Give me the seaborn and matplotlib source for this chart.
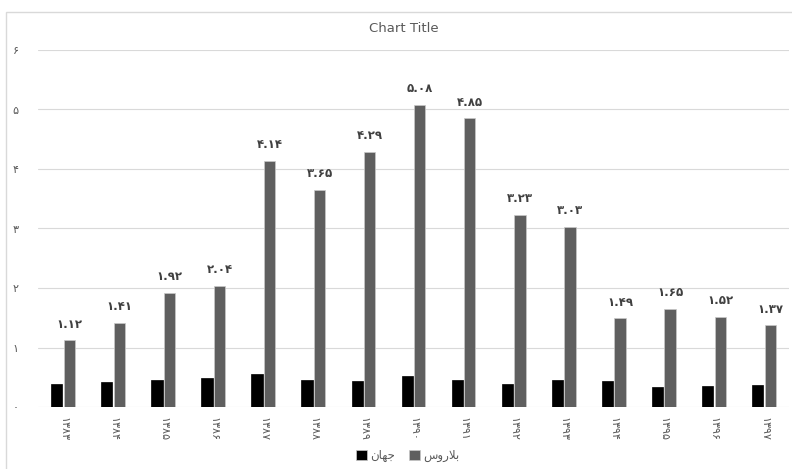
import pandas as pd
import matplotlib
matplotlib.use("Agg")
import matplotlib.pyplot as plt
import seaborn as sns
from matplotlib.patches import Rectangle

# data
years = [1383, 1384, 1385, 1386, 1387, 1388, 1389, 1390, 1391, 1392, 1393, 1394, 1395, 1396, 1397]
world = [0.39, 0.42, 0.45, 0.49, 0.55, 0.45, 0.44, 0.52, 0.45, 0.39, 0.45, 0.44, 0.34, 0.35, 0.37]
belarus = [1.12, 1.41, 1.92, 2.04, 4.14, 3.65, 4.29, 5.08, 4.85, 3.23, 3.03, 1.49, 1.65, 1.52, 1.37]
y_ticks = [0, 1, 2, 3, 4, 5, 6]

# "جهان" and "بلاروس" in shaped presentation forms, visual order (matplotlib has no bidi)
world_name = "\uFEE5\uFE8E\uFEEC\uFE9F"
belarus_name = "\uFEB1\uFEED\uFEAD\uFEFC\uFE91"

fa = str.maketrans("0123456789", "۰۱۲۳۴۵۶۷۸۹")

def fa_num(s):
    return str(s).translate(fa)

year_labels = [fa_num(y) for y in years]
df = pd.DataFrame({
    "year": year_labels * 2,
    "value": world + belarus,
    "series": [world_name] * len(years) + [belarus_name] * len(years),
})

sns.set_style("white")
plt.rcParams["font.family"] = ["DejaVu Sans"]

fig = plt.figure(figsize=(7.92, 4.69), dpi=100)
ax = fig.add_axes([38 / 792, 62 / 469, 751 / 792, 357 / 469])

sns.barplot(data=df, x="year", y="value", hue="series", order=year_labels,
            hue_order=[world_name, belarus_name], palette=["#000000", "#5f5f5f"],
            width=0.5, gap=0.1, ax=ax, edgecolor="#c8c8c8", linewidth=0.5)
for bar in ax.containers[0]:
    bar.set_edgecolor("#000000")

ax.set_xlim(-0.5, len(years) - 0.5)
ax.set_ylim(0, 6)
ax.set_yticks(y_ticks)
ax.set_yticklabels([fa_num(v) for v in y_ticks])
ax.set_xticks(range(len(years)))
ax.set_xticklabels(year_labels, rotation=-90)
ax.tick_params(axis="both", length=0, colors="#595959", labelsize=8)
ax.tick_params(axis="y", pad=14)
ax.tick_params(axis="x", pad=7)
ax.set_xlabel("")
ax.set_ylabel("")
ax.yaxis.grid(True, color="#d9d9d9", linewidth=0.8)
ax.set_axisbelow(True)
for s in ax.spines.values():
    s.set_visible(False)

gray_bars = ax.containers[1]
ax.bar_label(gray_bars, labels=[fa_num(f"{v:.2f}") for v in belarus], padding=7,
             fontsize=8.5, fontweight="bold", color="#404040")

ax.legend(loc="center", bbox_to_anchor=(0.515, 0.028), bbox_transform=fig.transFigure,
          ncol=2, frameon=False, fontsize=8.5, handlelength=0.9, handleheight=0.9,
          columnspacing=1.2, handletextpad=0.3, labelcolor="#595959")

fig.text(0.51, 0.94, "Chart Title", ha="center", va="center", fontsize=9.5, color="#595959")

fig.patches.append(Rectangle((6 / 792, -0.1), 1.2, (469 - 12) / 469 + 0.1,
                             transform=fig.transFigure, fill=False,
                             edgecolor="#d9d9d9", linewidth=1))

fig.savefig("out.png", dpi=100)
